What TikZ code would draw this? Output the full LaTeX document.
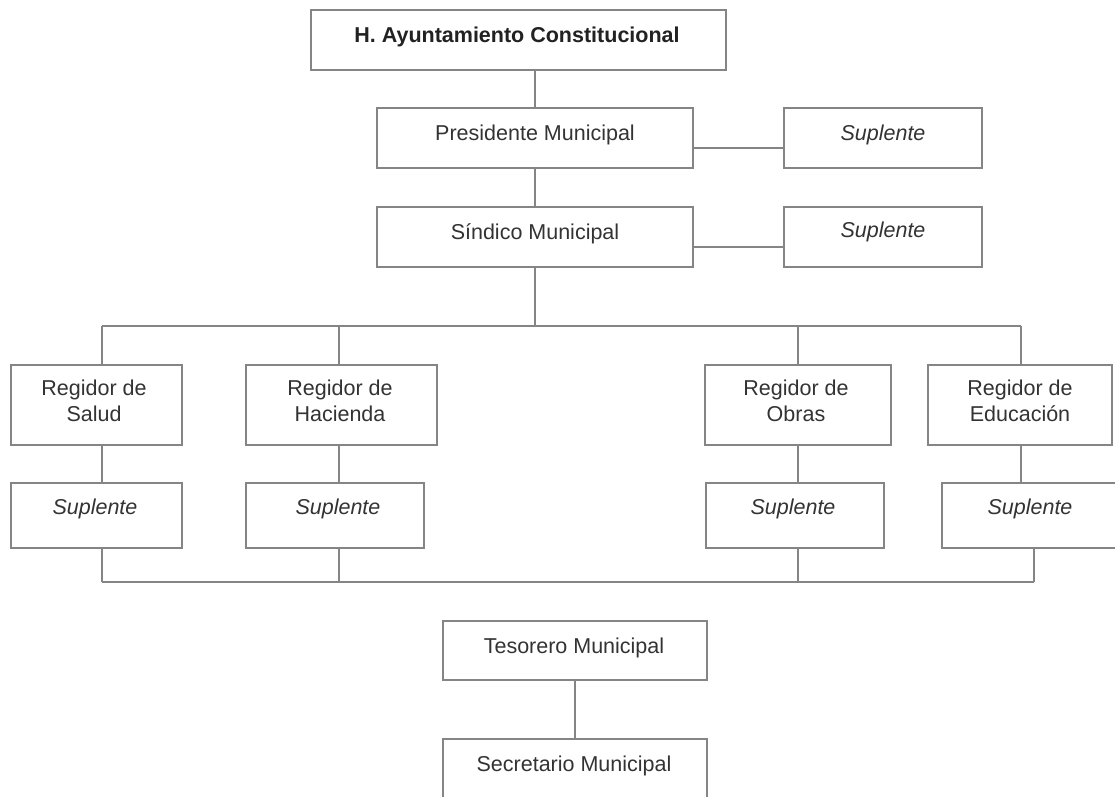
\documentclass[tikz,border=0pt]{standalone}
\usepackage{fontspec}
\setmainfont{Liberation Sans}
\definecolor{linegray}{HTML}{858585}
\definecolor{textgray}{HTML}{333333}
\definecolor{titlegray}{HTML}{222222}
\begin{document}
\begin{tikzpicture}[x=1pt,y=-1pt,
  box/.style={draw=linegray, line width=2.8pt, rectangle, inner sep=0pt},
  conn/.style={draw=linegray, line width=2.8pt},
  txt/.style={inner sep=0pt, anchor=base, text=textgray, font=\fontsize{21.5}{26}\selectfont},
  itxt/.style={txt, font=\fontsize{21.5}{26}\selectfont\itshape},
  ttl/.style={inner sep=0pt, anchor=base, text=titlegray, font=\fontsize{21.5}{26}\selectfont\bfseries}]
\useasboundingbox[fill=white] (0,0) rectangle (1115,796);

% boxes
\node[box, minimum width=415pt, minimum height=60pt] (top) at (518.5,40) {};
\node[box, minimum width=316pt, minimum height=60pt] (pres) at (535,138) {};
\node[box, minimum width=198pt, minimum height=60pt] (sup1) at (883,138) {};
\node[box, minimum width=316pt, minimum height=60pt] (sind) at (535,237) {};
\node[box, minimum width=198pt, minimum height=60pt] (sup2) at (883,237) {};

\node[box, minimum width=171pt, minimum height=80pt] (salud) at (96.5,405) {};
\node[box, minimum width=191pt, minimum height=80pt] (hac) at (341.5,405) {};
\node[box, minimum width=186pt, minimum height=80pt] (obras) at (798,405) {};
\node[box, minimum width=184pt, minimum height=80pt] (edu) at (1020,405) {};

\node[box, minimum width=171pt, minimum height=65pt] (ssalud) at (96.5,515.5) {};
\node[box, minimum width=178pt, minimum height=65pt] (shac) at (335,515.5) {};
\node[box, minimum width=178pt, minimum height=65pt] (sobras) at (795,515.5) {};
\node[box, minimum width=188pt, minimum height=65pt] (sedu) at (1036,515.5) {};

\node[box, minimum width=264pt, minimum height=59pt] (tes) at (575,650.5) {};
\node[box, minimum width=264pt, minimum height=91pt] (sec) at (575,784.5) {};

% texts
\node[ttl] (top-t) at (517,42) {H. Ayuntamiento Constitucional};
\node[txt] (pres-t) at (535,140) {Presidente Municipal};
\node[itxt] (sup1-t) at (883,140) {Suplente};
\node[txt] (sind-t) at (535,239) {Síndico Municipal};
\node[itxt] (sup2-t) at (883,237) {Suplente};

\node[txt] (salud-t1) at (94,395) {Regidor de};
\node[txt] (salud-t2) at (94,421) {Salud};
\node[txt] (hac-t1) at (340,395) {Regidor de};
\node[txt] (hac-t2) at (340,421) {Hacienda};
\node[txt] (obras-t1) at (796,395) {Regidor de};
\node[txt] (obras-t2) at (796,421) {Obras};
\node[txt] (edu-t1) at (1020,395) {Regidor de};
\node[txt] (edu-t2) at (1020,421) {Educación};

\node[itxt] (ssalud-t) at (95,514) {Suplente};
\node[itxt] (shac-t) at (338,514) {Suplente};
\node[itxt] (sobras-t) at (793,514) {Suplente};
\node[itxt] (sedu-t) at (1030,514) {Suplente};

\node[txt] (tes-t) at (574,653) {Tesorero Municipal};
\node[txt] (sec-t) at (574,771) {Secretario Municipal};

% bus coordinates
\coordinate (d1) at (102,326);
\coordinate (d2) at (339,326);
\coordinate (d3) at (798,326);
\coordinate (d4) at (1021,326);
\coordinate (b1) at (102,582);
\coordinate (b2) at (339,582);
\coordinate (b3) at (798,582);
\coordinate (b4) at (1034,582);

% connectors
\draw[conn] (pres.north |- top.south) -- (pres.north);
\draw[conn] ([yshift=-10pt]pres.east) -- ([yshift=-10pt]pres.east -| sup1.west);
\draw[conn] (pres.south) -- (sind.north);
\draw[conn] ([yshift=-10pt]sind.east) -- ([yshift=-10pt]sind.east -| sup2.west);
\draw[conn] (sind.south) -- (sind.south |- d1);
\draw[conn] (d1) -- (d4);
\draw[conn] (d1) -- (d1 |- salud.north);
\draw[conn] (d2) -- (d2 |- hac.north);
\draw[conn] (d3) -- (d3 |- obras.north);
\draw[conn] (d4) -- (d4 |- edu.north);
\draw[conn] (d1 |- salud.south) -- (d1 |- ssalud.north);
\draw[conn] (d2 |- hac.south) -- (d2 |- shac.north);
\draw[conn] (d3 |- obras.south) -- (d3 |- sobras.north);
\draw[conn] (d4 |- edu.south) -- (d4 |- sedu.north);
\draw[conn] (b1 |- ssalud.south) -- (b1);
\draw[conn] (b2 |- shac.south) -- (b2);
\draw[conn] (b3 |- sobras.south) -- (b3);
\draw[conn] (b4 |- sedu.south) -- (b4);
\draw[conn] (b1) -- (b4);
\draw[conn] (tes.south) -- (sec.north);
\end{tikzpicture}
\end{document}
